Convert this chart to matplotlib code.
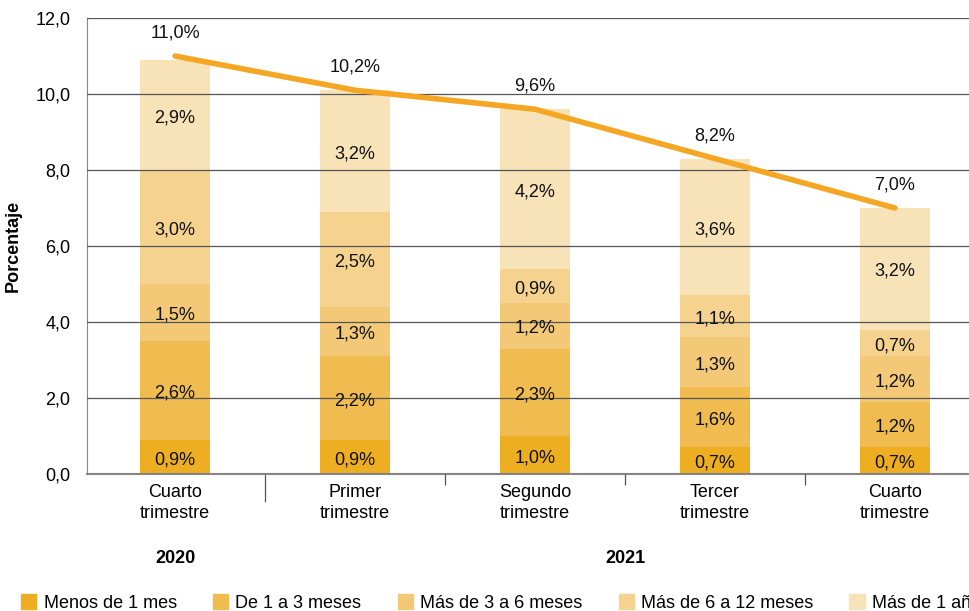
# Desempleo por duracion, barras apiladas con linea de total
import numpy as np
import matplotlib
matplotlib.use("Agg")
import matplotlib.pyplot as plt
from matplotlib.patches import Patch
import matplotlib.transforms as mtrans

plt.rcParams['font.family'] = ['Liberation Sans', 'DejaVu Sans']

categorias = ["Cuarto\ntrimestre", "Primer\ntrimestre", "Segundo\ntrimestre",
              "Tercer\ntrimestre", "Cuarto\ntrimestre"]
series = ["Menos de 1 mes", "De 1 a 3 meses", "Más de 3 a 6 meses",
          "Más de 6 a 12 meses", "Más de 1 año"]
menos_1 = [0.9, 0.9, 1.0, 0.7, 0.7]
de_1_3 = [2.6, 2.2, 2.3, 1.6, 1.2]
de_3_6 = [1.5, 1.3, 1.2, 1.3, 1.2]
de_6_12 = [3.0, 2.5, 0.9, 1.1, 0.7]
mas_1 = [2.9, 3.2, 4.2, 3.6, 3.2]
total = [11.0, 10.1, 9.6, 8.3, 7.0]
total_txt = ["11,0%", "10,2%", "9,6%", "8,2%", "7,0%"]

colores = ['#EDAE22', '#F0BC50', '#F3C978', '#F5D28E', '#F8E3B8']
fs = 13

fig = plt.figure(figsize=(9.7, 6.11), dpi=100)
ax = fig.add_axes([0.0897, 0.2242, 0.9103, 0.7463])

x = np.arange(len(categorias))
base = np.zeros(len(x))
for vals, col in zip([menos_1, de_1_3, de_3_6, de_6_12, mas_1], colores):
    vals = np.array(vals)
    ax.bar(x, vals, 0.39, bottom=base, color=col, zorder=1)
    for xi, b, v in zip(x, base, vals):
        ax.text(xi, b + v / 2 - 0.07, ("%.1f%%" % v).replace('.', ','),
                ha='center', va='center', fontsize=fs, color='#111111', zorder=4)
    base += vals

ax.plot(x, total, color='#F5A623', lw=4, solid_capstyle='round', zorder=3)
for xi, v, t in zip(x, total, total_txt):
    ax.text(xi, v + 0.6, t, ha='center', va='center', fontsize=fs, color='#111111')

ax.set_ylim(0, 12)
ax.set_xlim(-0.489, 4.417)
ax.set_yticks(np.arange(0, 12.1, 2))
ax.set_yticklabels([("%.1f" % v).replace('.', ',') for v in np.arange(0, 12.1, 2)],
                   fontsize=fs)
ax.yaxis.grid(True, color='#555555', lw=0.9, zorder=2)
ax.set_axisbelow(False)
ax.tick_params(axis='y', length=0, pad=12)

ax.set_xticks(x)
ax.set_xticklabels(categorias, fontsize=fs, linespacing=1.3)
ax.tick_params(axis='x', which='major', length=0, pad=7)
ax.set_xticks([1.5, 2.5, 3.5], minor=True)
ax.tick_params(axis='x', which='minor', length=8, color='#555555', width=0.9)

tr = mtrans.blended_transform_factory(ax.transData, ax.transAxes)
ax.plot([0.5, 0.5], [0, -0.06], transform=tr, color='#555555', lw=0.9, clip_on=False)

for s in ['top', 'right']:
    ax.spines[s].set_visible(False)
ax.spines['left'].set_color('#888888')
ax.spines['bottom'].set_color('#888888')
ax.spines['bottom'].set_linewidth(1.5)

ax.set_ylabel("Porcentaje", fontsize=fs, fontweight='bold', labelpad=10)

ax.text(0, -0.185, "2020", transform=tr, ha='center', va='center',
        fontsize=fs, fontweight='bold')
ax.text(2.5, -0.185, "2021", transform=tr, ha='center', va='center',
        fontsize=fs, fontweight='bold')

handles = [Patch(color=c) for c in colores]
fig.legend(handles, series, loc='lower left', bbox_to_anchor=(0.005, -0.028),
           ncol=5, frameon=False, fontsize=fs, handlelength=0.85,
           handleheight=0.85, handletextpad=0.4, columnspacing=2.0)

fig.savefig('out.png', dpi=100)
